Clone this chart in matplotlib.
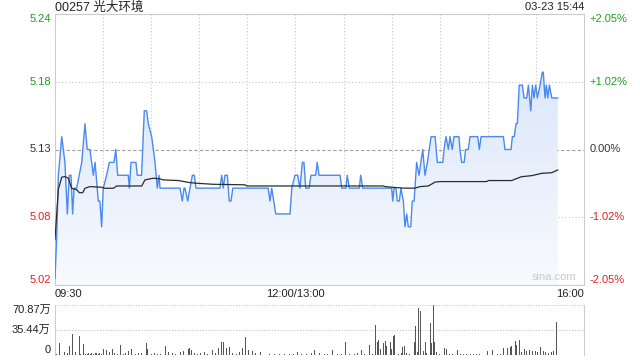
# ==============================
# 1. IMPORTS
# ==============================
import numpy as np
import matplotlib
matplotlib.use("Agg")
import matplotlib.pyplot as plt
from matplotlib.colors import LinearSegmentedColormap

plt.rcParams["font.family"] = ["Liberation Sans", "Noto Sans CJK SC", "DejaVu Sans"]

# ==============================
# 2. DATA
# ==============================
title = "00257 光大环境"
stamp = "03-23 15:44"
prev_close = 5.13
y_ticks = [5.24, 5.18, 5.13, 5.08, 5.02]
pct_ticks = ["+2.05%", "+1.02%", "0.00%", "-1.02%", "-2.05%"]
time_labels = ["09:30", "12:00/13:00", "16:00"]
vol_tick_labels = ["70.87万", "35.44万", "0"]
vol_max = 70.87

# minutes since 09:30 (lunch break removed) and price
price_min = [0, 1, 2.1, 4.2, 6.2, 7.7, 8.9, 10, 11, 11.9, 13.5, 16.7, 18.7, 20.1, 21.8,
             23.9, 25, 27, 28, 29.1, 30.1, 32.2, 33.9, 36.8, 37.9, 39.1, 45.7, 46.4,
             47.4, 50.5, 51.3, 54, 55.7, 57.2, 58.2, 60.3, 62.4, 63.8, 64.9, 65.5, 78,
             79.4, 80.5, 81.1, 82.8, 84.2, 85.7, 86.9, 88, 102.9, 104, 105, 106, 107.5,
             108.7, 109.8, 110.9, 133, 134.1, 135.2, 137.7, 146.6, 147.7, 149.7, 151.4,
             152.8, 154.3, 155.3, 156.4, 158.5, 159.7, 162.6, 163.6, 164.7, 177.8,
             178.9, 181.5, 182.3, 183.6, 189.8, 190.7, 192, 210, 210.7, 211.5, 212.7,
             213.5, 214.8, 215.8, 217.3, 218.3, 219.4, 220.4, 221.9, 222.9, 224, 225.6,
             227.1, 229.4, 230.8, 232.3, 234.6, 237.1, 238.5, 241.9, 242.7, 243.9,
             245.4, 246.4, 247.8, 248.9, 252, 252.6, 253.7, 255.2, 256.2, 257.8, 258.9,
             263.7, 264.7, 265.8, 279.7, 280.7, 284.5, 285.3, 286.5, 287.6, 288.4,
             289.6, 291.5, 292.6, 294.3, 295.3, 296.8, 297.8, 298.8, 299.9, 300.9,
             302.6, 304, 304.6, 305.7, 306.5, 307.4, 308.4, 309.9, 313.6]
price_val = [5.03, 5.06, 5.11, 5.14, 5.12, 5.08, 5.11, 5.11, 5.08, 5.10, 5.10, 5.12, 5.15,
             5.13, 5.13, 5.11, 5.12, 5.09, 5.09, 5.07, 5.10, 5.11, 5.12, 5.12, 5.13, 5.11,
             5.11, 5.10, 5.12, 5.12, 5.11, 5.11, 5.16, 5.16, 5.15, 5.14, 5.12, 5.10, 5.11,
             5.10, 5.10, 5.09, 5.10, 5.10, 5.09, 5.10, 5.11, 5.11, 5.10, 5.10, 5.11, 5.10,
             5.11, 5.11, 5.09, 5.09, 5.10, 5.10, 5.09, 5.10, 5.08, 5.08, 5.10, 5.11, 5.11,
             5.10, 5.12, 5.12, 5.10, 5.10, 5.11, 5.11, 5.12, 5.11, 5.11, 5.10, 5.10, 5.11,
             5.10, 5.10, 5.11, 5.10, 5.10, 5.09, 5.10, 5.10, 5.09, 5.09, 5.10, 5.09, 5.07,
             5.08, 5.07, 5.07, 5.09, 5.09, 5.12, 5.11, 5.13, 5.11, 5.12, 5.14, 5.14, 5.12,
             5.12, 5.13, 5.14, 5.13, 5.14, 5.13, 5.14, 5.14, 5.13, 5.12, 5.12, 5.13, 5.13,
             5.14, 5.14, 5.13, 5.14, 5.14, 5.13, 5.13, 5.14, 5.14, 5.15, 5.15, 5.18, 5.18,
             5.17, 5.17, 5.18, 5.16, 5.18, 5.17, 5.18, 5.17, 5.18, 5.19, 5.19, 5.17, 5.18,
             5.17, 5.18, 5.17, 5.17]

# average price line
avg_min = [0, 2.1, 4.2, 6.2, 8.3, 10.4, 13.5, 15.2, 17.3, 18.7, 21.8, 29.1, 31.2, 36.4,
           38.5, 54.1, 56.1, 61.3, 65.5, 67.6, 76.9, 84.2, 88.4, 98.6, 118.5, 119.6,
           168.4, 204.8, 205.9, 217.3, 224.6, 227.7, 232.9, 237.1, 240.2, 269.3, 270.3,
           284.9, 287, 291.1, 297.4, 303.6, 309.9, 313.6]
avg_val = [5.06, 5.099, 5.1085, 5.109, 5.1077, 5.0999, 5.0988, 5.0965, 5.0965, 5.0999,
           5.1012, 5.1007, 5.0999, 5.0999, 5.1017, 5.1017, 5.1064, 5.1077, 5.1072, 5.1064,
           5.1059, 5.1043, 5.1038, 5.103, 5.1026, 5.1017, 5.1017, 5.1017, 5.1012, 5.100,
           5.100, 5.1012, 5.1017, 5.1047, 5.1051, 5.1051, 5.1059, 5.1059, 5.107, 5.1089,
           5.1097, 5.1115, 5.112, 5.1141]

# volume bars (万 shares)
vol_min = [0, 1, 3, 5, 6, 8, 9, 11, 13, 15, 16, 18, 19, 20, 21, 22, 23, 24, 25, 26, 27,
           28, 29, 30, 32, 34, 36, 37, 39, 41, 43, 44, 46, 48, 50, 52, 54, 57, 58, 60, 62,
           64, 66, 68, 69, 71, 73, 75, 78, 80, 83, 84, 85, 87, 89, 91, 93, 95, 98, 100,
           102, 104, 105, 107, 109, 111, 113, 115, 117, 119, 121, 123, 125, 128, 131, 134,
           137, 140, 143, 146, 149, 151, 154, 157, 160, 162, 165, 168, 170, 173, 176, 179,
           181, 184, 187, 189, 191, 193, 196, 198, 200, 201, 202, 203, 204, 205, 206, 207,
           209, 210, 211, 212, 214, 216, 217, 218, 219, 221, 224, 225, 226, 227, 228, 230,
           231, 232, 234, 235, 236, 237, 238, 240, 243, 244, 246, 248, 251, 253, 255, 257,
           259, 261, 263, 265, 267, 270, 273, 276, 278, 280, 282, 284, 285, 287, 288, 290,
           291, 293, 294, 296, 298, 300, 301, 303, 305, 306, 308, 310, 311, 313]
vol_val = [3, 2, 16.4, 18.8, 4.3, 3.4, 13, 29.9, 4, 27.5, 2, 15.4, 2, 1.5, 2.5, 2, 3, 2,
           2.5, 3.5, 2, 2.5, 2, 8.2, 6.7, 4.8, 8.2, 3, 2, 14.5, 2, 2.5, 5.8, 8.2, 2, 3, 2.5,
           17.4, 8.2, 2, 2.5, 2, 2, 27.5, 13, 4.8, 2.5, 2, 4.3, 5.8, 8.2, 10.6, 6.7, 3, 2,
           2.5, 4.8, 2, 6.7, 3, 10.6, 18.8, 18.8, 10.6, 11.6, 3, 2, 4.8, 10.6, 25, 6.7, 5.8,
           2.5, 4.8, 2, 1.5, 1.5, 2, 1.5, 1.5, 2, 4.3, 1.5, 2, 2.5, 6.7, 2.3, 1.3, 2, 7.2,
           2, 2, 17.8, 2, 2, 2.5, 7.2, 2, 14.5, 2, 42, 18.8, 21.7, 8.2, 16.4, 16.4, 20.2,
           13, 17.8, 8.2, 26.5, 28.9, 2, 3.4, 11.6, 13, 3, 2, 17.8, 41, 4.3, 66, 62.2, 5.8,
           17.8, 3, 45.3, 16.9, 70.87, 17.8, 4, 2, 10.6, 8.2, 2, 2, 7.2, 2, 1.5, 2, 1.5, 2,
           1.5, 2, 1.5, 5.8, 7.2, 2, 2, 10.6, 9.6, 11.6, 13, 19.3, 14, 21.2, 4.3, 8.2, 5.8,
           7.2, 5.8, 5.8, 4.3, 12, 5.8, 4.3, 3, 4.3, 5.8, 46.7]

# ==============================
# 3. LAYOUT
# ==============================
W, H = 640, 360
green, red, gray = "#1f9e1f", "#e8201c", "#333333"
y_lo, y_hi = prev_close * (1 - 0.0205), prev_close * (1 + 0.0205)

fig = plt.figure(figsize=(6.4, 3.6), dpi=100)
ax = fig.add_axes([55 / W, 1 - 285 / H, 529 / W, 271 / H])
axv = fig.add_axes([55 / W, 1 - 355 / H, 529 / W, 50 / H])

# ==============================
# 4. PRICE PANEL
# ==============================
ax.set_xlim(0, 330)
ax.set_ylim(y_lo, y_hi)

# gradient fill under price line
poly = ax.fill_between(price_min, price_val, y_lo, color="none", lw=0)
cmap = LinearSegmentedColormap.from_list("fill", ["#f8fafe", "#dbe7fa"])
grad = np.linspace(0, 1, 256).reshape(-1, 1)
img = ax.imshow(grad, cmap=cmap, aspect="auto", origin="lower",
                extent=[0, 330, y_lo, 5.19], zorder=1)
img.set_clip_path(poly.get_paths()[0], transform=ax.transData)

ax.plot(price_min, price_val, color="#4a8aef", lw=1.0, zorder=3)
ax.plot(avg_min, avg_val, color="#2b2b2b", lw=0.9, zorder=3)

for m in range(30, 330, 30):
    ax.axvline(m, color="#c8c8c8", lw=0.8, ls=(0, (1, 2)), zorder=0)
for v in [5.18, 5.08]:
    ax.axhline(prev_close * (1 + (0.01025 if v > prev_close else -0.01025)),
               color="#c8c8c8", lw=0.8, ls=(0, (1, 2)), zorder=0)
ax.axhline(prev_close, color="#a0a0a0", lw=0.8, ls=(0, (3, 2)), zorder=0)

for s in ax.spines.values():
    s.set_color("#cccccc")
    s.set_linewidth(0.8)
ax.set_xticks([])
ax.set_yticks([])

tick_pos = [y_hi, prev_close * 1.01025, prev_close, prev_close * 0.98975, y_lo]
tick_col = [green, green, gray, red, red]
tick_va = ["top", "center", "center", "center", "bottom"]
for pos, lab, pct, c, va in zip(tick_pos, y_ticks, pct_ticks, tick_col, tick_va):
    ax.text(-0.008, pos, f"{lab:.2f}", transform=ax.get_yaxis_transform(),
            ha="right", va=va, color=c, fontsize=8)
    ax.text(1.01, pos, pct, transform=ax.get_yaxis_transform(),
            ha="left", va=va, color=c, fontsize=8)

fig.text(55 / W, 1 - 7.5 / H, title, ha="left", va="center",
         fontsize=9, color="#222222")
fig.text(584 / W, 1 - 7.5 / H, stamp, ha="right", va="center",
         fontsize=8, color="#222222")
ax.text(0.985, 0.01, "sina.com", transform=ax.transAxes, ha="right", va="bottom",
        fontsize=8, color="#c8c8c8")

ax.text(0, -0.015, time_labels[0], transform=ax.get_xaxis_transform(),
        ha="left", va="top", fontsize=8, color="#222222")
ax.text(150, -0.015, time_labels[1], transform=ax.get_xaxis_transform(),
        ha="center", va="top", fontsize=8, color="#222222")
ax.text(330, -0.015, time_labels[2], transform=ax.get_xaxis_transform(),
        ha="right", va="top", fontsize=8, color="#222222")

# ==============================
# 5. VOLUME PANEL
# ==============================
axv.set_xlim(0, 330)
axv.set_ylim(0, vol_max)
axv.bar(vol_min, vol_val, width=0.6, color="#555555", zorder=2)
axv.axhline(vol_max, color="#c8c8c8", lw=0.8, ls=(0, (1, 1.5)), zorder=0)
axv.axhline(vol_max / 2, color="#c8c8c8", lw=0.8, ls=(0, (1, 1.5)), zorder=0)
for side in ["top", "bottom"]:
    axv.spines[side].set_visible(False)
for side in ["left", "right"]:
    axv.spines[side].set_color("#cccccc")
    axv.spines[side].set_linewidth(0.8)
axv.set_xticks([])
axv.set_yticks([])
for pos, lab in zip([vol_max * 0.9, vol_max / 2, vol_max * 0.1], vol_tick_labels):
    axv.text(-0.008, pos, lab, transform=axv.get_yaxis_transform(),
             ha="right", va="center", fontsize=8, color="#222222")

fig.savefig("out.png", dpi=100, facecolor="white")
